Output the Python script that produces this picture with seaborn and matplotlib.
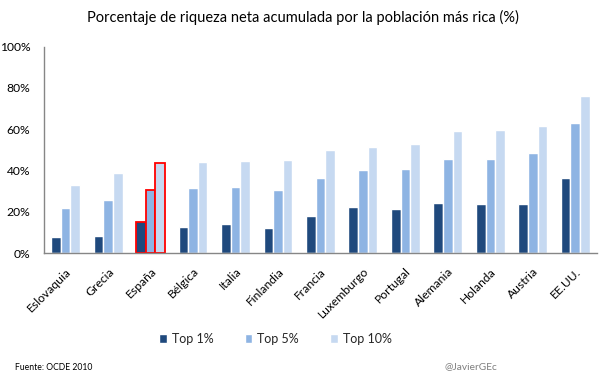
import matplotlib
matplotlib.use("Agg")
import matplotlib.pyplot as plt
import seaborn as sns
import pandas as pd
from matplotlib.ticker import FuncFormatter

paises = ["Eslovaquia", "Grecia", "España", "Bélgica", "Italia", "Finlandia", "Francia",
          "Luxemburgo", "Portugal", "Alemania", "Holanda", "Austria", "EE.UU."]
top1 = [7.9, 8.4, 15.0, 12.7, 14.2, 12.2, 18.1, 22.4, 21.4, 24.3, 23.8, 23.8, 36.4]
top5 = [21.9, 25.8, 30.8, 31.6, 32.1, 30.6, 36.4, 40.3, 40.8, 45.6, 45.6, 48.5, 63.0]
top10 = [33.1, 38.9, 43.5, 44.2, 44.7, 45.2, 50.0, 51.4, 52.9, 59.2, 59.7, 61.6, 76.1]
series = ["Top 1%", "Top 5%", "Top 10%"]
colores = ["#1F497D", "#8EB4E3", "#C6D9F1"]
resaltado = "España"

df = pd.DataFrame({
    "pais": paises * 3,
    "serie": [series[0]] * len(paises) + [series[1]] * len(paises) + [series[2]] * len(paises),
    "valor": top1 + top5 + top10,
})

sns.set_style("white")
plt.rcParams["font.family"] = ["Lato", "DejaVu Sans"]

fig = plt.figure(figsize=(6.05, 3.78), dpi=100)
ax = fig.add_axes([0.0733, 0.330, 0.9127, 0.5465])

sns.barplot(data=df, x="pais", y="valor", hue="serie", order=paises, hue_order=series,
            palette=colores, width=0.68, gap=0, saturation=1, ax=ax, legend=True)

idx = paises.index(resaltado)
for cont in ax.containers:
    bar = cont[idx]
    bar.set_edgecolor("#FF0000")
    bar.set_linewidth(1.3)

ax.set_ylim(0, 100)
ax.set_xlim(-0.5, len(paises) - 0.5)
ax.set_yticks([0, 20, 40, 60, 80, 100])
ax.yaxis.set_major_formatter(FuncFormatter(lambda v, p: f"{int(v)}%"))
ax.set_xlabel("")
ax.set_ylabel("")
ax.tick_params(axis="both", length=0, labelsize=8.7, colors="#000000")
ax.tick_params(axis="y", pad=10)
ax.tick_params(axis="x", pad=9)
for lab in ax.get_xticklabels():
    lab.set_rotation(45)
    lab.set_ha("right")
    lab.set_rotation_mode("anchor")

for s in ["top", "right"]:
    ax.spines[s].set_visible(False)
for s in ["left", "bottom"]:
    ax.spines[s].set_color("#868686")
    ax.spines[s].set_linewidth(1.0)

leg = ax.legend(loc="center", bbox_to_anchor=(0.4186, -0.415), ncol=3, frameon=False,
                fontsize=9, handlelength=0.6, handleheight=0.8, handletextpad=0.4,
                columnspacing=2.5)

fig.text(0.5, 0.955, "Porcentaje de riqueza neta acumulada por la población más rica (%)",
         ha="center", va="center", fontsize=10.5, color="#000000")
fig.text(0.025, 0.029, "Fuente: OCDE 2010", ha="left", va="center", fontsize=6.2, color="#000000")
fig.text(0.822, 0.029, "@JavierGEc", ha="right", va="center", fontsize=7.3, color="#7F7F7F")

fig.savefig("out.png", dpi=100)
